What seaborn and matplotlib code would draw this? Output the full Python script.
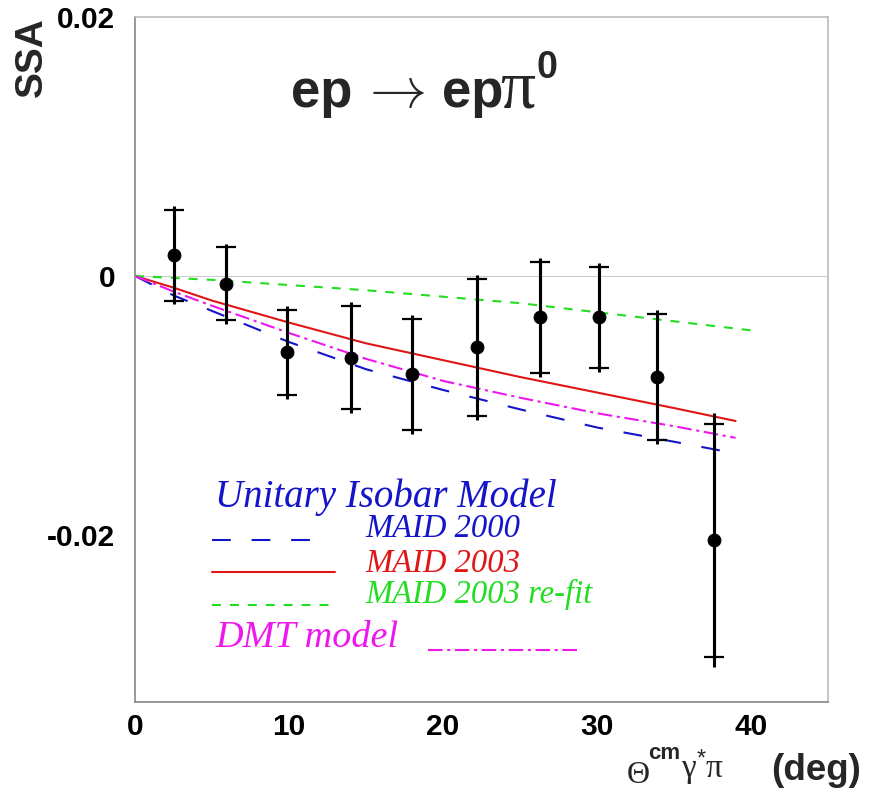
import numpy as np
import pandas as pd
import matplotlib
matplotlib.use("Agg")
import matplotlib.pyplot as plt
import seaborn as sns

# ---------------- data ----------------
x_data = [2.5, 5.9, 9.9, 14.0, 18.0, 22.2, 26.3, 30.1, 33.9, 37.6]
y_data = [0.0016, -0.0006, -0.0059, -0.0063, -0.0076, -0.0055, -0.0032, -0.0032, -0.0078, -0.0204]
err_stat = [0.0035, 0.0028, 0.0033, 0.0040, 0.0043, 0.0053, 0.0043, 0.0039, 0.0049, 0.0090]
err_tot = [0.0038, 0.0031, 0.0036, 0.0043, 0.0046, 0.0056, 0.0046, 0.0042, 0.0052, 0.0098]

x_model = [0, 2.5, 5, 10, 15, 20, 25, 30, 35, 39]
y_maid2000 = [0, -0.0015, -0.0027, -0.0051, -0.0072, -0.0088, -0.0103, -0.0117, -0.0128, -0.0137]
y_maid2003 = [0, -0.0009, -0.0019, -0.0036, -0.0052, -0.0065, -0.0078, -0.0090, -0.0102, -0.0112]
y_dmt = [0, -0.0012, -0.0023, -0.0044, -0.0064, -0.0081, -0.0094, -0.0106, -0.0116, -0.0125]
x_refit = [0, 5, 10, 15, 20, 25, 30, 35, 40]
y_refit = [0, -0.0003, -0.0007, -0.0011, -0.0016, -0.0021, -0.0028, -0.0035, -0.0042]

x_ticks = [0, 10, 20, 30, 40]
x_tick_labels = ["0", "10", "20", "30", "40"]
y_ticks = [-0.02, 0, 0.02]
y_tick_labels = ["-0.02", "0", "0.02"]

legend_labels = ["Unitary Isobar Model", "MAID 2000", "MAID 2003", "MAID 2003 re-fit", "DMT model"]

# ---------------- style ----------------
sns.set_theme(style="white")
plt.rcParams["font.family"] = ["Liberation Sans", "DejaVu Sans"]
plt.rcParams["mathtext.fontset"] = "custom"
plt.rcParams["mathtext.rm"] = "Liberation Sans"
plt.rcParams["mathtext.bf"] = "Liberation Sans:bold"
plt.rcParams["mathtext.it"] = "Liberation Serif:italic"
plt.rcParams["mathtext.sf"] = "Liberation Serif"

BLUE = "#1414c8"
RED = "#e01515"
GREEN = "#22dd22"
MAGENTA = "#ee18ee"

W, H = 879, 791
fig = plt.figure(figsize=(W / 100, H / 100), dpi=100)
ax = fig.add_axes([135 / W, 89 / H, 693 / W, 685 / H])


def fx(px):
    return px / W


def fy(py):
    return 1 - py / H


ax.axhline(0, color="#cccccc", lw=0.8, zorder=0)

blue_ls = (0, (9.0, 10.0))
green_ls = (0, (4.3, 4.3))
mag_ls = (0, (7.0, 2.2, 1.5, 2.2))

sns.lineplot(x=x_model, y=y_maid2000, ax=ax, color=BLUE, lw=1.5, linestyle=blue_ls, estimator=None)
sns.lineplot(x=x_model, y=y_maid2003, ax=ax, color=RED, lw=1.5, linestyle="-", estimator=None)
sns.lineplot(x=x_refit, y=y_refit, ax=ax, color=GREEN, lw=1.5, linestyle=green_ls, estimator=None)
sns.lineplot(x=x_model, y=y_dmt, ax=ax, color=MAGENTA, lw=1.5, linestyle=mag_ls, estimator=None)

ax.errorbar(x_data, y_data, yerr=err_tot, fmt="none", ecolor="black", elinewidth=2.2, capsize=0, zorder=4)
ax.errorbar(x_data, y_data, yerr=err_stat, fmt="none", ecolor="black", elinewidth=2.2,
            capsize=7.5, capthick=1.6, zorder=4)
sns.scatterplot(x=x_data, y=y_data, ax=ax, color="black", s=85, edgecolor="black", zorder=5)

ax.set_xlim(0, 45)
ax.set_ylim(-0.0329, 0.02)
ax.set_xticks(x_ticks)
ax.set_xticklabels(x_tick_labels)
ax.set_yticks(y_ticks)
ax.set_yticklabels(y_tick_labels)
ax.tick_params(axis="both", direction="in", length=9.5, width=0.8, color="#888888",
               labelsize=21.5, labelcolor="black")
ax.tick_params(axis="x", pad=8)
ax.tick_params(axis="y", pad=14)
for lab in ax.get_xticklabels() + ax.get_yticklabels():
    lab.set_fontweight("bold")
ax.set_xlabel("")
ax.set_ylabel("")
for side in ["left", "bottom"]:
    ax.spines[side].set_color("#888888")
    ax.spines[side].set_linewidth(1.2)
for side in ["right", "top"]:
    ax.spines[side].set_color("#bbbbbb")
    ax.spines[side].set_linewidth(1.2)

# title: ep -> ep pi^0
fig.text(fx(291), fy(107), "ep", ha="left", va="baseline", fontsize=38, fontweight="bold")
fig.text(fx(360), fy(107), r"$\rightarrow$", ha="left", va="baseline", fontsize=41, math_fontfamily="cm")
fig.text(fx(442), fy(107), "ep", ha="left", va="baseline", fontsize=38, fontweight="bold")
fig.text(fx(500), fy(107), "\u03c0", ha="left", va="baseline", fontsize=50, family="Liberation Serif")
fig.text(fx(536), fy(78), "0", ha="left", va="baseline", fontsize=27, fontweight="bold")

# legend text
serif_it = dict(family="Liberation Serif", style="italic")
ax.text(0.1154, 0.2847, legend_labels[0], transform=ax.transAxes, color=BLUE, fontsize=28, **serif_it)
ax.text(0.3319, 0.2405, legend_labels[1], transform=ax.transAxes, color=BLUE, fontsize=23.5, **serif_it)
ax.text(0.3319, 0.1898, legend_labels[2], transform=ax.transAxes, color=RED, fontsize=23.5, **serif_it)
ax.text(0.3319, 0.1445, legend_labels[3], transform=ax.transAxes, color=GREEN, fontsize=23.5, **serif_it)
ax.text(0.1154, 0.0803, legend_labels[4], transform=ax.transAxes, color=MAGENTA, fontsize=27.5, **serif_it)

# legend line samples
ax.plot([0.111, 0.261], [0.2365, 0.2365], transform=ax.transAxes, color=BLUE, lw=1.5, linestyle=blue_ls)
ax.plot([0.111, 0.2886], [0.1898, 0.1898], transform=ax.transAxes, color=RED, lw=1.5)
ax.plot([0.111, 0.2886], [0.1416, 0.1416], transform=ax.transAxes, color=GREEN, lw=1.5, linestyle=green_ls)
ax.plot([0.4228, 0.6421], [0.0759, 0.0759], transform=ax.transAxes, color=MAGENTA, lw=1.5, linestyle=mag_ls)

# axis labels
fig.text(fx(32), fy(57), "SSA", rotation=90, ha="center", va="center", fontsize=28, fontweight="bold")
fig.text(fx(627), fy(783), "\u0398", ha="left", va="baseline", fontsize=23, family="Liberation Serif")
fig.text(fx(648), fy(759), "cm", ha="left", va="baseline", fontsize=16, fontweight="bold")
fig.text(fx(681), fy(778), r"$\mathsf{\gamma}^{*}\mathsf{\pi}$", ha="left", va="baseline", fontsize=24)
fig.text(fx(771), fy(780), "(deg)", ha="left", va="baseline", fontsize=26.5, fontweight="bold")

fig.savefig("out.png", dpi=100)
